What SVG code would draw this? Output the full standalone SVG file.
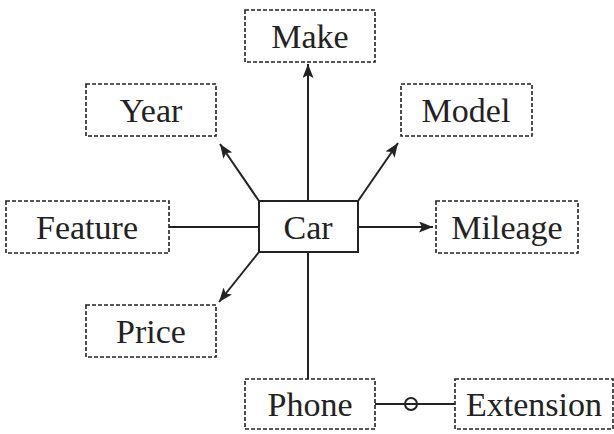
<svg xmlns="http://www.w3.org/2000/svg" width="614" height="434" viewBox="0 0 614 434">
  <style>
    .attr { fill: #fff; stroke: #222; stroke-width: 1.6; stroke-dasharray: 4 2; }
    .entity { fill: #fff; stroke: #222; stroke-width: 2; }
    .edge { stroke: #222; stroke-width: 2; fill: none; }
  </style>
  <defs>
    <!-- filled arrowhead with a slight notch at the back -->
    <marker id="arrow" viewBox="0 0 14 11" refX="14" refY="5.5" markerWidth="14" markerHeight="11" markerUnits="userSpaceOnUse" orient="auto">
      <path d="M0,0 L14,5.5 L0,11 L3,5.5 Z" fill="#222"/>
    </marker>
  </defs>

  <!-- relationship lines from the Car entity -->
  <g id="connectors">
    <line class="edge" x1="308" y1="201" x2="308" y2="64" marker-end="url(#arrow)"/>
    <line class="edge" x1="259" y1="201" x2="220" y2="144" marker-end="url(#arrow)"/>
    <line class="edge" x1="358" y1="201" x2="398" y2="143" marker-end="url(#arrow)"/>
    <line class="edge" x1="358" y1="227" x2="433" y2="227" marker-end="url(#arrow)"/>
    <line class="edge" x1="169" y1="227" x2="259" y2="227"/>
    <line class="edge" x1="259" y1="252" x2="219" y2="302" marker-end="url(#arrow)"/>
    <line class="edge" x1="308" y1="252" x2="308" y2="379"/>
    <line class="edge" x1="375" y1="404" x2="455" y2="404"/>
    <circle class="edge" cx="411" cy="404" r="6"/>
  </g>

  <g id="node-make">
    <rect class="attr" x="245" y="10" width="130" height="52"/>
    <text x="310" y="48" font-family="Liberation Serif, Times New Roman, serif" font-size="34" fill="#222" text-anchor="middle">Make</text>
  </g>
  <g id="node-year">
    <rect class="attr" x="86" y="84" width="130" height="52"/>
    <text x="151" y="122" font-family="Liberation Serif, Times New Roman, serif" font-size="34" fill="#222" text-anchor="middle">Year</text>
  </g>
  <g id="node-model">
    <rect class="attr" x="401" y="84" width="131" height="52"/>
    <text x="466" y="122" font-family="Liberation Serif, Times New Roman, serif" font-size="34" fill="#222" text-anchor="middle">Model</text>
  </g>
  <g id="node-feature">
    <rect class="attr" x="6" y="201" width="163" height="52"/>
    <text x="87" y="239" font-family="Liberation Serif, Times New Roman, serif" font-size="34" fill="#222" text-anchor="middle">Feature</text>
  </g>
  <g id="node-car">
    <rect class="entity" x="259" y="201" width="99" height="51"/>
    <text x="308" y="239" font-family="Liberation Serif, Times New Roman, serif" font-size="34" fill="#222" text-anchor="middle">Car</text>
  </g>
  <g id="node-mileage">
    <rect class="attr" x="436" y="201" width="142" height="52"/>
    <text x="507" y="239" font-family="Liberation Serif, Times New Roman, serif" font-size="34" fill="#222" text-anchor="middle">Mileage</text>
  </g>
  <g id="node-price">
    <rect class="attr" x="86" y="305" width="130" height="52"/>
    <text x="151" y="343" font-family="Liberation Serif, Times New Roman, serif" font-size="34" fill="#222" text-anchor="middle">Price</text>
  </g>
  <g id="node-phone">
    <rect class="attr" x="245" y="379" width="130" height="50"/>
    <text x="310" y="416" font-family="Liberation Serif, Times New Roman, serif" font-size="34" fill="#222" text-anchor="middle">Phone</text>
  </g>
  <g id="node-extension">
    <rect class="attr" x="455" y="379" width="158" height="50"/>
    <text x="534" y="416" font-family="Liberation Serif, Times New Roman, serif" font-size="34" fill="#222" text-anchor="middle">Extension</text>
  </g>
</svg>
